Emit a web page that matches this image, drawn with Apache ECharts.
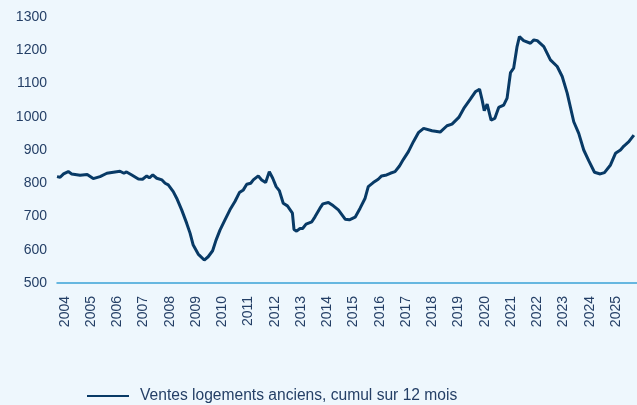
<!DOCTYPE html>
<html>
<head>
<meta charset="utf-8">
<script src="https://cdn.jsdelivr.net/npm/echarts@6/dist/echarts.min.js"></script>
<style>
	html, body { margin: 0; padding: 0; background: #eef7fd; }
	#chart { width: 637px; height: 405px; }
</style>
</head>
<body>
<div id="chart"></div>
<script>
// dates en années décimales, valeurs en milliers
var dates = [2003.70, 2003.82, 2003.95, 2004.13, 2004.26, 2004.58, 2004.85, 2005.08, 2005.34, 2005.60,
	2005.91, 2006.10, 2006.25, 2006.35, 2006.55, 2006.80, 2006.96, 2007.12, 2007.22, 2007.35,
	2007.50, 2007.70, 2007.82, 2007.94, 2008.13, 2008.26, 2008.45, 2008.64, 2008.77, 2008.89,
	2009.08, 2009.31, 2009.46, 2009.63, 2009.76, 2009.91, 2010.10, 2010.29, 2010.48, 2010.65,
	2010.80, 2010.93, 2011.08, 2011.18, 2011.37, 2011.50, 2011.65, 2011.79, 2011.92, 2012.05,
	2012.17, 2012.32, 2012.48, 2012.67, 2012.73, 2012.83, 2012.96, 2013.06, 2013.19, 2013.41,
	2013.53, 2013.72, 2013.83, 2014.04, 2014.23, 2014.42, 2014.68, 2014.84, 2015.06, 2015.25,
	2015.44, 2015.56, 2015.75, 2015.94, 2016.07, 2016.26, 2016.40, 2016.58, 2016.75, 2016.90,
	2017.09, 2017.28, 2017.47, 2017.67, 2017.99, 2018.30, 2018.56, 2018.75, 2019.01, 2019.20,
	2019.45, 2019.64, 2019.80, 2019.90, 2019.98, 2020.09, 2020.24, 2020.38, 2020.53, 2020.72,
	2020.85, 2020.98, 2021.10, 2021.23, 2021.32, 2021.48, 2021.74, 2021.87, 2022.00, 2022.06,
	2022.25, 2022.50, 2022.76, 2022.95, 2023.14, 2023.39, 2023.58, 2023.77, 2023.96, 2024.18,
	2024.40, 2024.56, 2024.79, 2024.98, 2025.17, 2025.30, 2025.49, 2025.68];
var ventes = [820, 818, 828, 835, 828, 824, 826, 814, 820, 830,
	834, 836, 830, 834, 825, 813, 812, 822, 816, 825,
	815, 810, 800, 795, 775, 755, 720, 680, 650, 614,
	587, 569, 579, 597, 629, 659, 690, 720, 745, 772,
	780, 797, 800, 810, 822, 810, 802, 835, 815, 790,
	778, 740, 732, 710, 661, 656, 664, 664, 677, 684,
	699, 725, 738, 742, 732, 720, 692, 690, 698, 725,
	755, 790, 802, 812, 822, 825, 830, 835, 852, 872,
	895, 925, 952, 965, 958, 954, 973, 978, 998, 1025,
	1053, 1075, 1083, 1050, 1018, 1038, 990, 995, 1028, 1035,
	1056, 1133, 1146, 1211, 1241, 1229, 1221, 1231, 1229, 1233,
	1211, 1171, 1151, 1121, 1071, 985, 950, 900, 868, 833,
	828, 832, 855, 890, 900, 912, 925, 945];
var annees = [];
for (var a = 2004; a <= 2025; a++) annees.push(a);
var serieNom = 'Ventes logements anciens, cumul sur 12 mois';

var points = dates.map(function (d, i) { return [d, ventes[i]]; });
var txtColor = '#243f66';

var chart = echarts.init(document.getElementById('chart'));
chart.setOption({
	backgroundColor: '#eef7fd',
	animation: false,
	textStyle: { fontFamily: 'Liberation Sans, Arial, sans-serif' },
	grid: { left: 57, right: 0, top: 17, bottom: 122, containLabel: false },
	legend: {
		left: 87,
		top: 388,
		padding: 0,
		icon: 'rect',
		itemWidth: 42,
		itemHeight: 2,
		itemGap: 10,
		textStyle: {
			color: txtColor,
			fontSize: 15.6,
			padding: [0, 0, 0, 6],
			fontFamily: 'Liberation Sans, Arial, sans-serif'
		},
		data: [serieNom]
	},
	xAxis: {
		type: 'value',
		min: 2003.7,
		max: 2025.8,
		axisLine: { show: true, lineStyle: { color: '#3aa3d6', width: 1.5 } },
		axisTick: { show: false },
		splitLine: { show: false },
		axisLabel: {
			customValues: annees,
			rotate: 90,
			margin: 13,
			color: txtColor,
			fontSize: 14,
			formatter: function (v) { return String(Math.round(v)); }
		}
	},
	yAxis: {
		type: 'value',
		min: 500,
		max: 1300,
		interval: 100,
		axisLine: { show: false },
		axisTick: { show: false },
		splitLine: { show: false },
		axisLabel: {
			color: txtColor,
			fontSize: 14,
			margin: 10,
			formatter: function (v) { return String(v); }
		}
	},
	series: [{
		name: serieNom,
		type: 'line',
		data: points,
		showSymbol: false,
		symbol: 'none',
		lineStyle: { color: '#083a66', width: 3 },
		itemStyle: { color: '#083a66' }
	}]
});
</script>
</body>
</html>
